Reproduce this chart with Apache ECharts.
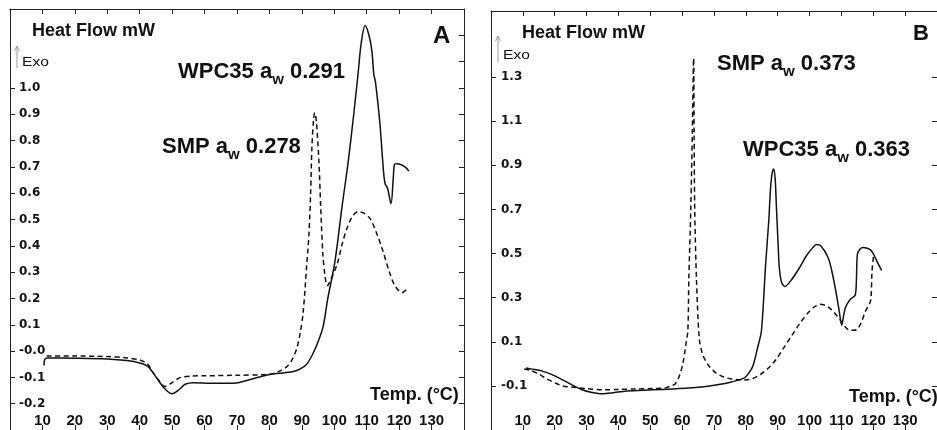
<!DOCTYPE html>
<html><head><meta charset="utf-8">
<script src="https://cdn.jsdelivr.net/npm/echarts@6/dist/echarts.min.js"></script>
<style>html,body{margin:0;padding:0;background:#fff}#c{width:937px;height:430px}</style>
</head><body><div id="c"></div>
<script>
// ---- tick values / labels ----
const xTickValues = [10, 20, 30, 40, 50, 60, 70, 80, 90, 100, 110, 120, 130];
const yLabelsA = [-0.2, -0.1, 0, 0.1, 0.2, 0.3, 0.4, 0.5, 0.6, 0.7, 0.8, 0.9, 1.0];
const yTicksRightA = [-0.2, -0.1, 0, 0.1, 0.2, 0.3, 0.4, 0.5, 0.6, 0.7, 0.8, 0.9, 1.0, 1.1, 1.2];
const yLabelsB = [-0.1, 0.1, 0.3, 0.5, 0.7, 0.9, 1.1, 1.3];

// ---- Panel A: WPC35 aw 0.291 (solid) ----
const wpcA = [
  [10.5, -0.055], [10.7, -0.032], [11.5, -0.026], [20, -0.027], [30, -0.030], [36, -0.036],
  [40, -0.045], [42.5, -0.058], [45, -0.098], [47.5, -0.140], [50, -0.162], [52, -0.148],
  [54, -0.126], [56.5, -0.120], [62, -0.122], [69, -0.122], [75, -0.105], [79, -0.092],
  [84, -0.083], [87.4, -0.078], [89.5, -0.068], [91.5, -0.050], [93.2, -0.015], [94.7, 0.026],
  [96.5, 0.09], [98, 0.20], [100.2, 0.34], [102.4, 0.55], [104.3, 0.72], [106, 0.90],
  [107.3, 1.05], [108.3, 1.17], [109.5, 1.237], [110.7, 1.20], [111.6, 1.14], [112.2, 1.05],
  [112.6, 1.03], [113.2, 0.97], [114.1, 0.86], [115.2, 0.68], [115.7, 0.635], [116.4, 0.62],
  [117.5, 0.56], [118.2, 0.66], [118.6, 0.71], [119.5, 0.712], [121.8, 0.70], [123, 0.684]
];
// ---- Panel A: SMP aw 0.278 (dashed) ----
const smpA = [
  [11.3, -0.019], [20, -0.019], [30, -0.021], [36, -0.026], [40, -0.034], [42.5, -0.050],
  [44, -0.080], [46, -0.113], [47.8, -0.135], [50, -0.120], [52.4, -0.101], [56, -0.095],
  [60, -0.094], [70, -0.092], [78, -0.090], [81, -0.086], [83, -0.077], [85.3, -0.060],
  [86.9, -0.034], [88.4, 0.008], [89.5, 0.07], [90.4, 0.147], [91.5, 0.327], [92.2, 0.447],
  [92.7, 0.60], [93.1, 0.774], [93.6, 0.88], [94, 0.906], [94.5, 0.87], [95.3, 0.71],
  [95.8, 0.55], [96.5, 0.365], [97.2, 0.28], [97.8, 0.248], [98.5, 0.26], [100.8, 0.327],
  [102.5, 0.41], [103.9, 0.466], [105.5, 0.51], [107.3, 0.53], [109, 0.525], [111, 0.504],
  [113, 0.45], [115, 0.38], [117, 0.30], [118.7, 0.248], [120.9, 0.222], [122.4, 0.235]
];
// ---- Panel B: WPC35 aw 0.363 (solid) ----
const wpcB = [
  [11, -0.019], [13, -0.024], [15.9, -0.032], [19, -0.048], [22, -0.069], [25, -0.092],
  [28.1, -0.114], [31, -0.128], [34.9, -0.136], [38, -0.132], [42.5, -0.123], [50.7, -0.118],
  [56.9, -0.114], [62, -0.110], [66, -0.105], [71, -0.095], [75.5, -0.082], [79.2, -0.066],
  [80.5, -0.050], [82.2, -0.010], [83.8, 0.08], [84.9, 0.15], [86.2, 0.45], [87.2, 0.65],
  [87.7, 0.785], [88.2, 0.86], [88.7, 0.884], [89.2, 0.84], [89.6, 0.708], [90.1, 0.55],
  [90.5, 0.437], [91.2, 0.37], [92.3, 0.351], [94, 0.375], [96.6, 0.43], [99, 0.49],
  [101, 0.527], [102.1, 0.541], [103.5, 0.535], [105.8, 0.482], [107, 0.42], [108.2, 0.333],
  [109.3, 0.24], [110.1, 0.175], [110.7, 0.22], [111.3, 0.257], [112.8, 0.293], [114.3, 0.311],
  [114.7, 0.38], [115, 0.496], [115.8, 0.52], [116.8, 0.528], [118.9, 0.519], [120, 0.50],
  [121, 0.469], [122.6, 0.424]
];
// ---- Panel B: SMP aw 0.373 (dashed) ----
const smpB = [
  [10.4, -0.023], [12.5, -0.030], [15, -0.046], [17.5, -0.068], [20.2, -0.087], [22.5, -0.100],
  [25.1, -0.105], [30, -0.112], [35.5, -0.118], [40, -0.116], [45.6, -0.114], [50, -0.112],
  [54.7, -0.109], [56.5, -0.100], [57.8, -0.091], [59, -0.060], [60.2, -0.001], [61.2, 0.09],
  [61.8, 0.153], [62.1, 0.383], [62.7, 0.695], [63.2, 1.05], [63.6, 1.386], [63.75, 1.05],
  [63.95, 0.70], [64.5, 0.383], [65.4, 0.112], [66.5, 0.04], [68.2, -0.005], [70.5, -0.040],
  [73.1, -0.060], [76, -0.070], [79.2, -0.073], [81.5, -0.070], [84.4, -0.050], [87, -0.020],
  [89.6, 0.022], [92, 0.075], [94.5, 0.13], [97, 0.185], [99.7, 0.234], [101.5, 0.258],
  [103.3, 0.27], [105, 0.265], [106.7, 0.248], [108, 0.228], [109.4, 0.203], [111, 0.17],
  [112.5, 0.153], [113.8, 0.152], [115, 0.157], [116.3, 0.19], [117.4, 0.234], [118.9, 0.275],
  [119.3, 0.30], [119.6, 0.42], [120.1, 0.491]
];

const INK = '#111';
const BORDER = '#222';
const AX_FONT = 'Liberation Sans';

function fmtY(v) {
  if (Math.abs(v) < 1e-9) return '-0.0';
  return v.toFixed(1);
}

function xAxes(grid) {
  return [
    {
      gridIndex: grid, type: 'value', min: 0, max: 140, position: 'bottom',
      axisLine: { show: true, onZero: false, lineStyle: { color: BORDER, width: 1 } },
      axisTick: { show: true, inside: true, length: 5, customValues: xTickValues, lineStyle: { color: BORDER } },
      axisLabel: { show: true, inside: true, margin: 2, customValues: xTickValues,
        fontFamily: AX_FONT, fontWeight: 'bold', fontSize: 15, color: INK },
      splitLine: { show: false }
    },
    {
      gridIndex: grid, type: 'value', min: 0, max: 140, position: 'top',
      axisLine: { show: true, onZero: false, lineStyle: { color: BORDER, width: 1 } },
      axisTick: { show: true, inside: true, length: 5, customValues: xTickValues, lineStyle: { color: BORDER } },
      axisLabel: { show: false },
      splitLine: { show: false }
    }
  ];
}

function yAxes(grid, min, max, labels, rightTicks, margin) {
  return [
    {
      gridIndex: grid, type: 'value', min: min, max: max, position: 'left',
      axisLine: { show: true, onZero: false, lineStyle: { color: BORDER, width: 1 } },
      axisTick: { show: true, inside: true, length: 5, customValues: labels, lineStyle: { color: BORDER } },
      axisLabel: { show: true, inside: true, margin: margin, customValues: labels, formatter: fmtY,
        fontFamily: 'DejaVu Sans', fontWeight: 'bold', fontSize: 12, color: INK },
      splitLine: { show: false }
    },
    {
      gridIndex: grid, type: 'value', min: min, max: max, position: 'right',
      axisLine: { show: true, onZero: false, lineStyle: { color: BORDER, width: 1 } },
      axisTick: { show: true, inside: true, length: 5, customValues: rightTicks, lineStyle: { color: BORDER } },
      axisLabel: { show: false },
      splitLine: { show: false }
    }
  ];
}

function curve(name, data, xi, yi, dashed) {
  return {
    name: name, type: 'line', xAxisIndex: xi, yAxisIndex: yi, data: data,
    showSymbol: false, symbol: 'none', smooth: 0.3, animation: false, clip: false,
    lineStyle: { color: INK, width: 1.5, type: dashed ? [5, 3.5] : 'solid' }
  };
}

function label(x, y, main, sub, tail) {
  return {
    type: 'text', x: x, y: y, z: 100,
    style: {
      text: main + '{w|' + sub + '}' + tail,
      fill: INK, fontFamily: AX_FONT, fontWeight: 'bold', fontSize: 22,
      verticalAlign: 'middle', align: 'left',
      rich: { w: { fill: INK, fontFamily: AX_FONT, fontWeight: 'bold', fontSize: 15, lineHeight: 14, padding: [16, 0, 0, 0] } }
    }
  };
}
function plain(x, y, text, size, weight, extra) {
  return Object.assign({
    type: 'text', x: x, y: y, z: 100,
    style: { text: text, fill: INK, fontFamily: AX_FONT, fontWeight: weight, fontSize: size,
      verticalAlign: 'middle', align: 'left' }
  }, extra || {});
}
function arrow(x, y0, y1) {
  return [
    { type: 'line', z: 100, shape: { x1: x, y1: y1, x2: x, y2: y0 }, style: { stroke: '#9a9a9a', lineWidth: 1 } },
    { type: 'polyline', z: 100, shape: { points: [[x - 2.5, y0 + 5], [x, y0], [x + 2.5, y0 + 5]] }, style: { stroke: '#9a9a9a', lineWidth: 1, fill: null } }
  ];
}

const option = {
  backgroundColor: '#fff',
  animation: false,
  grid: [
    { left: 10, top: 9, width: 454, height: 425, containLabel: false },
    { left: 491, top: 11, width: 458, height: 423, containLabel: false }
  ],
  xAxis: [].concat(xAxes(0), xAxes(1)),
  yAxis: [].concat(
    yAxes(0, -0.3, 1.3, yLabelsA, yTicksRightA, 9),
    yAxes(1, -0.3, 1.6, yLabelsB, yLabelsB, 10)
  ),
  series: [
    curve('WPC35 aw 0.291', wpcA, 0, 0, false),
    curve('SMP aw 0.278', smpA, 0, 0, true),
    curve('WPC35 aw 0.363', wpcB, 2, 2, false),
    curve('SMP aw 0.373', smpB, 2, 2, true)
  ],
  graphic: [].concat(
    [
      plain(32, 31, 'Heat Flow mW', 18, 'bold'),
      plain(433, 36, 'A', 24, 'bold'),
      plain(370, 395, 'Temp. (°C)', 18, 'bold'),
      plain(22, 63, 'Exo', 12, 'normal', { scaleX: 1.3 }),
      label(178, 72, 'WPC35 a', 'w', ' 0.291'),
      label(162, 147, 'SMP a', 'w', ' 0.278'),
      plain(522, 33.5, 'Heat Flow mW', 18, 'bold'),
      plain(913, 34, 'B', 22, 'bold'),
      plain(849, 397, 'Temp. (°C)', 18, 'bold'),
      plain(503, 56, 'Exo', 12, 'normal', { scaleX: 1.3 }),
      label(717, 64, 'SMP a', 'w', ' 0.373'),
      label(743, 150, 'WPC35 a', 'w', ' 0.363')
    ],
    arrow(17, 46, 68),
    arrow(498, 36, 62)
  )
};

const chart = echarts.init(document.getElementById('c'), null, { renderer: 'canvas' });
chart.setOption(option);
</script>
</body></html>
